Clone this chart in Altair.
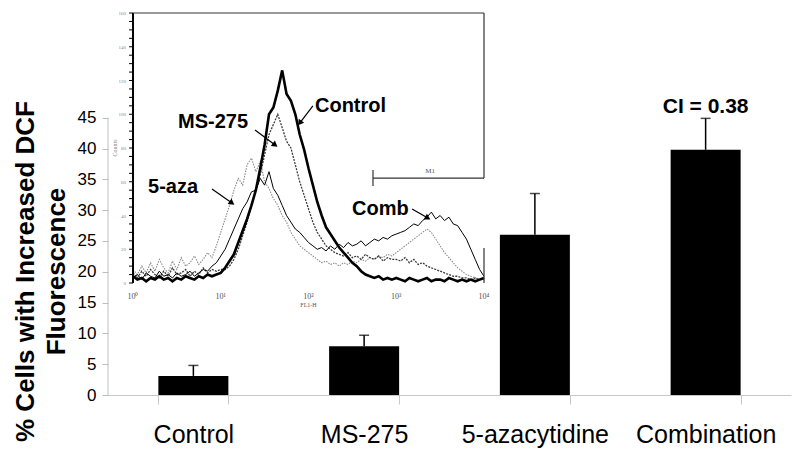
import altair as alt
import pandas as pd

# ---------------- main bar chart data ----------------
groups = ["Control", "MS-275", "5-azacytidine", "Combination"]
pct = [3.1, 7.9, 26.0, 39.8]
err = [1.7, 1.8, 6.7, 5.1]
y_ticks = [0, 5, 10, 15, 20, 25, 30, 35, 40, 45]
ci_label = "CI = 0.38"

# ---------------- inset histogram data (log10 FL1-H vs counts) ----------------
fl_log = [round(i * 0.05, 2) for i in range(81)]
hist_control = [4, 2, 3, 1, 3, 2, 4, 2, 3, 1, 3, 2, 4, 3, 2, 4, 3, 5, 4, 5,
                6, 9, 13, 17, 24, 31, 38, 46, 55, 68, 82, 100, 104, 114, 126, 112, 108, 100, 88, 79,
                68, 58, 48, 40, 33, 29, 25, 21, 18, 15, 12, 10, 7, 5, 4, 3, 4, 2, 3, 2,
                3, 2, 1, 3, 2, 1, 2, 3, 1, 2, 2, 1, 3, 2, 1, 2, 1, 2, 1, 2, 3]
hist_ms275 = [6, 3, 7, 4, 8, 5, 3, 7, 4, 9, 5, 6, 8, 4, 7, 5, 9, 6, 8, 7,
              8, 8, 10, 14, 20, 28, 36, 46, 55, 64, 76, 88, 94, 100, 92, 84, 80, 70, 60, 52,
              44, 36, 30, 26, 22, 20, 18, 17, 16, 18, 15, 16, 14, 17, 15, 14, 16, 13, 15, 14,
              14, 13, 15, 12, 14, 11, 12, 10, 9, 8, 7, 6, 5, 4, 4, 3, 3, 2, 3, 2, 3]
hist_aza = [8, 5, 10, 6, 12, 7, 14, 9, 6, 13, 8, 15, 10, 12, 16, 11, 14, 18, 15, 22,
            30, 38, 46, 55, 62, 58, 70, 74, 66, 72, 60, 56, 50, 46, 40, 36, 30, 26, 22, 20,
            18, 16, 14, 12, 13, 11, 12, 10, 12, 11, 13, 12, 14, 13, 15, 14, 16, 15, 17, 16,
            18, 20, 22, 24, 26, 28, 30, 32, 30, 26, 22, 18, 15, 12, 9, 7, 5, 4, 3, 2, 2]
hist_comb = [3, 5, 2, 6, 4, 3, 7, 4, 5, 3, 6, 4, 5, 7, 4, 6, 8, 7, 10, 12,
             16, 20, 26, 32, 38, 44, 48, 54, 55, 62, 58, 66, 56, 52, 46, 40, 36, 32, 30, 27,
             24, 22, 20, 21, 19, 22, 20, 23, 21, 24, 22, 23, 25, 22, 24, 26, 25, 27, 26, 28,
             29, 30, 31, 33, 35, 34, 37, 39, 42, 38, 40, 37, 39, 35, 34, 30, 26, 20, 14, 8, 4]

inset_decades = [0, 1, 2, 3, 4]
inset_decade_labels = ["10\u2070", "10\u00b9", "10\u00b2", "10\u00b3", "10\u2074"]
inset_count_max = 160
inset_major_counts = [0, 20, 40, 60, 80, 100, 120, 140, 160]
inset_minor_counts = [i * 5 for i in range(33)]

# annotations (in inset data units)
ann_names = ["Control", "MS-275", "5-aza", "Comb"]
ann_L = [2.074, 0.513, 0.171, 2.496]
ann_c = [101.3, 91.9, 53.3, 40.3]
arrow_tail_L = [2.05, 1.39, 0.90, 3.18]
arrow_tail_c = [104.9, 90.7, 55.7, 43.9]
arrow_head_L = [1.90, 1.62, 1.128, 3.36]
arrow_head_c = [94.8, 81.8, 47.4, 38.5]
arrow_angle = [217, 127, 125, 119]

m1_start_L = 2.735
m1_level = 62.2
m1_tick = [57.5, 67.0]

# ---------------- main chart ----------------
bars = pd.DataFrame({"group": groups, "pct": pct,
                     "hi": [p + e for p, e in zip(pct, err)]})
bars["label"] = ["", "", "", ci_label]

bscale = alt.Scale(domain=groups, paddingInner=0.59, paddingOuter=0.295)
yscale = alt.Scale(domain=[0, 62.0], nice=False, zero=False)

xaxis = alt.Axis(title=None, labelAngle=0, labelFont="Liberation Sans",
                 labelFontSize=25, labelColor="black", labelPadding=18,
                 labelBaseline="top", tickSize=9, tickColor="#c8c8c8",
                 domainColor="#c8c8c8", tickBand="extent")
yaxis = alt.Axis(values=y_ticks, domain=False, grid=False, tickSize=6,
                 tickColor="#bdbdbd", labelFont="Liberation Sans",
                 labelFontSize=17, labelColor="black", labelPadding=6,
                 title=["% Cells with Increased DCF", "Fluorescence"],
                 titleFont="Liberation Sans", titleFontSize=26,
                 titleFontWeight="bold", titleColor="black",
                 titleAngle=270, titleAlign="center", titleBaseline="top",
                 titleX=-96, titleY=258, titleLineHeight=31)

bar_layer = alt.Chart(bars).mark_bar(color="black").encode(
    x=alt.X("group:N", sort=groups, scale=bscale, axis=xaxis),
    y=alt.Y("pct:Q", scale=yscale, axis=yaxis),
)
err_rule = alt.Chart(bars).mark_rule(color="black", strokeWidth=1.5).encode(
    x=alt.X("group:N", sort=groups, scale=bscale, axis=xaxis),
    y=alt.Y("pct:Q", scale=yscale, axis=yaxis), y2="hi:Q")
err_cap = alt.Chart(bars).mark_tick(color="black", thickness=1.5, size=10).encode(
    x=alt.X("group:N", sort=groups, scale=bscale, axis=xaxis),
    y=alt.Y("hi:Q", scale=yscale, axis=yaxis))
ci_text = alt.Chart(bars).mark_text(font="Liberation Sans", fontSize=21, fontWeight="bold",
                                    color="black", baseline="alphabetic", dy=-5).encode(
    x=alt.X("group:N", sort=groups, scale=bscale, axis=xaxis),
    y=alt.Y("hi:Q", scale=yscale, axis=yaxis), text="label:N")

main = alt.layer(bar_layer, err_rule, err_cap, ci_text)

# ---------------- inset ----------------
xs = alt.Scale(domain=[-0.2849, 7.4986], nice=False, zero=False)
ys = alt.Scale(domain=[-66.37, 160], nice=False, zero=False)

def X(f="L"):
    return alt.X(f + ":Q", scale=xs, axis=None)

def Y(f="count"):
    return alt.Y(f + ":Q", scale=ys, axis=None)

def hist_df(vals):
    return pd.DataFrame({"L": fl_log, "count": vals})

aza_line = alt.Chart(hist_df(hist_aza)).mark_line(color="#8a8a8a", strokeWidth=1.1,
                                                  strokeDash=[1.5, 1.2]).encode(x=X(), y=Y())
ms_line = alt.Chart(hist_df(hist_ms275)).mark_line(color="#3c3c3c", strokeWidth=1.3,
                                                   strokeDash=[2, 1.2]).encode(x=X(), y=Y())
comb_line = alt.Chart(hist_df(hist_comb)).mark_line(color="black", strokeWidth=1).encode(
    x=X(), y=Y())
ctrl_line = alt.Chart(hist_df(hist_control)).mark_line(color="black", strokeWidth=2.6).encode(
    x=X(), y=Y())

seg = pd.DataFrame({
    "L": [0, 0, 4, 4, m1_start_L, m1_start_L],
    "L2": [0, 4, 4, 4, 4, m1_start_L],
    "count": [0, inset_count_max, inset_count_max, 0, m1_level, m1_tick[0]],
    "count2": [inset_count_max, inset_count_max, m1_level, 20.7, m1_level, m1_tick[1]],
    "w": ["left", "top", "right", "right", "m1", "m1"],
})
left_axis = alt.Chart(seg[seg.w == "left"]).mark_rule(color="black", strokeWidth=2).encode(
    x=X(), x2="L2:Q", y=Y(), y2="count2:Q")
box = alt.Chart(seg[seg.w != "left"]).mark_rule(color="#333333", strokeWidth=1.2).encode(
    x=X(), x2="L2:Q", y=Y(), y2="count2:Q")

ticks = alt.Chart(pd.DataFrame({"count": inset_minor_counts})).mark_rule(
    color="black", strokeWidth=1).encode(
    x=alt.datum(-0.045, scale=xs, axis=None), x2=alt.datum(0), y=Y())
tick_labels = alt.Chart(pd.DataFrame({"count": inset_major_counts})).mark_text(
    font="Liberation Serif", fontSize=5, color="#888888", align="right").encode(
    x=alt.datum(-0.08, scale=xs, axis=None), y=Y(), text="count:Q")
counts_title = alt.Chart(pd.DataFrame({"count": [80], "t": ["Counts"]})).mark_text(
    font="Liberation Serif", fontSize=6, color="#888888", angle=270).encode(
    x=alt.datum(-0.2, scale=xs, axis=None), y=Y(), text="t:N")
dec_labels = alt.Chart(pd.DataFrame({"L": inset_decades, "t": inset_decade_labels,
                                     "count": [-8] * 5})).mark_text(
    font="Liberation Serif", fontSize=8, color="#555555").encode(x=X(), y=Y(), text="t:N")
fl_label = alt.Chart(pd.DataFrame({"L": [2.0], "count": [-13], "t": ["FL1-H"]})).mark_text(
    font="Liberation Serif", fontSize=6, color="#555555").encode(x=X(), y=Y(), text="t:N")
m1_label = alt.Chart(pd.DataFrame({"L": [3.385], "count": [64.6], "t": ["M1"]})).mark_text(
    font="Liberation Serif", fontSize=7, color="#555555", baseline="bottom").encode(
    x=X(), y=Y(), text="t:N")

ann = pd.DataFrame({"name": ann_names, "L": ann_L, "count": ann_c,
                    "tL": arrow_tail_L, "tc": arrow_tail_c,
                    "hL": arrow_head_L, "hc": arrow_head_c, "ang": arrow_angle})
ann_text = alt.Chart(ann).mark_text(font="Liberation Sans", fontSize=20, fontWeight="bold",
                                    color="black", align="left", baseline="alphabetic").encode(
    x=X(), y=Y(), text="name:N")
arrow_shaft = alt.Chart(ann).mark_rule(color="black", strokeWidth=1.2).encode(
    x=X("tL"), x2="hL:Q", y=Y("tc"), y2="hc:Q")
arrow_head = alt.Chart(ann).mark_point(shape="triangle-up", filled=True, color="black",
                                       size=45, opacity=1).encode(
    x=X("hL"), y=Y("hc"), angle=alt.Angle("ang:Q", scale=None))

# gray main y-axis line (0 to 45 only)
yline_scale = alt.Scale(domain=[0, 62.0], nice=False, zero=False)
yaxis_line = alt.Chart(pd.DataFrame({"lo": [y_ticks[0]], "hi": [y_ticks[-1]]})).mark_rule(
    color="#c0c0c0").encode(
    x=alt.value(0),
    y=alt.Y("lo:Q", scale=yline_scale, axis=None), y2="hi:Q")

inset = alt.layer(aza_line, ms_line, comb_line, ctrl_line, left_axis, box, ticks,
                  tick_labels, counts_title, dec_labels, fl_label, m1_label,
                  arrow_shaft, arrow_head, ann_text)

chart = alt.layer(main, inset, yaxis_line).resolve_scale(
    x="independent", y="independent").properties(
    width=683, height=382,
    padding={"left": 100, "top": 5, "right": 1, "bottom": 60},
    autosize=alt.AutoSizeParams(type="none"),
).configure_view(stroke=None)

chart.save("out.html", embed_options={"renderer": "svg", "actions": False})
